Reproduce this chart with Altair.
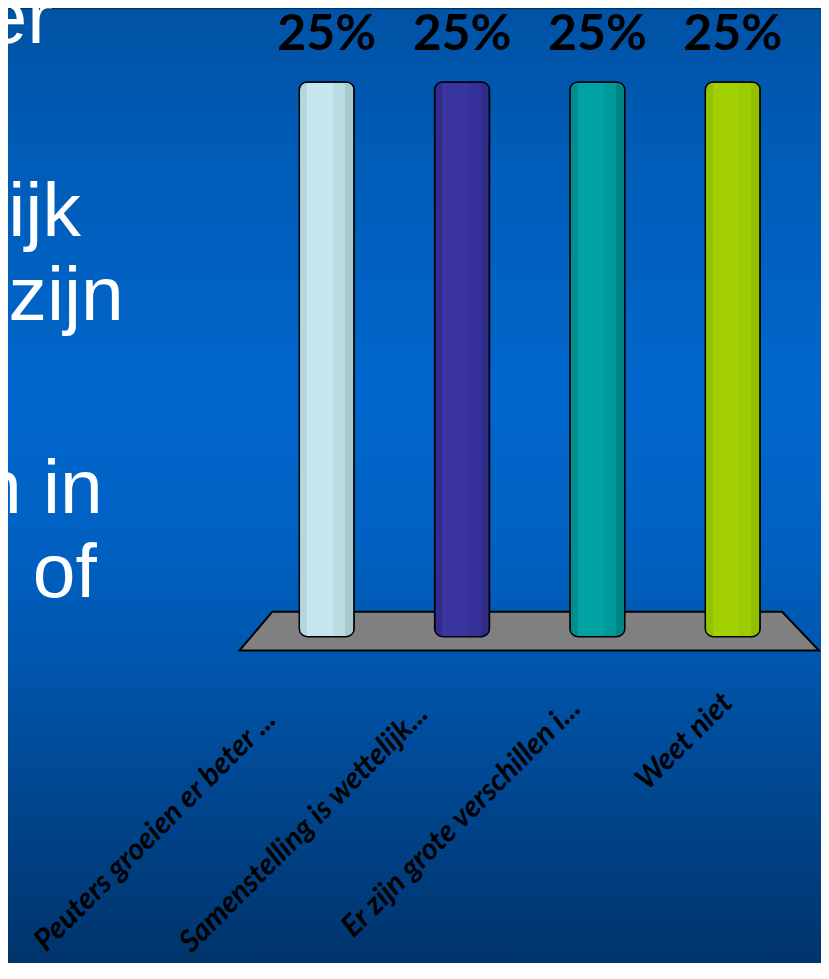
import altair as alt
import pandas as pd

# ---- data ----
categories = [
    "Peuters groeien er beter ...",
    "Samenstelling is wettelijk...",
    "Er zijn grote verschillen i...",
    "Weet niet",
]
values = [0.25, 0.25, 0.25, 0.25]

# side text fragments (cut off by the slide edge)
left_fragments = ["er", "ijk", "zijn", "n in", "l of"]

# bar colours: facets of each cylinder, left -> right
bar_shades = [
    ["#B2D8DE", "#C4E6EC", "#B8DDE2", "#A6CACD", "#96B6B8"],
    ["#302B8C", "#3A349E", "#363099", "#302B88", "#282476"],
    ["#008E8E", "#00A2A2", "#009999", "#008585", "#007A7A"],
    ["#92C200", "#A2D000", "#9BCB00", "#92C000", "#88B200"],
]

W, H = 815, 955

df = pd.DataFrame({"cat": categories, "value": values})

# ---- background ----
bg = alt.Chart(pd.DataFrame({"a": [0]})).mark_rect(
    fill=alt.Gradient(
        gradient="linear",
        stops=[
            alt.GradientStop(color="#0052A4", offset=0),
            alt.GradientStop(color="#005CB7", offset=0.15),
            alt.GradientStop(color="#0066CC", offset=0.40),
            alt.GradientStop(color="#0061C2", offset=0.56),
            alt.GradientStop(color="#0056AE", offset=0.68),
            alt.GradientStop(color="#004A96", offset=0.79),
            alt.GradientStop(color="#00346C", offset=1),
        ],
        x1=0, x2=0, y1=0, y2=1,
    )
).encode(x=alt.value(0), x2=alt.value(W), y=alt.value(0), y2=alt.value(H))

# ---- left text fragments ----
frag_pos = [(45, 34), (73, 227), (116, 312), (95, 505), (89, 589)]
frag_layers = []
for frag, (fx, fy) in zip(left_fragments, frag_pos):
    frag_layers.append(
        alt.Chart(pd.DataFrame({"t": [frag]})).mark_text(
            font="Liberation Sans", fontSize=77, color="white",
            align="right", baseline="alphabetic",
        ).encode(text="t:N", x=alt.value(fx), y=alt.value(fy))
    )

# ---- floor ----
floor_df = pd.DataFrame({"y": [604, 643], "xl": [265, 232], "xr": [776, 813]})
floor = alt.Chart(floor_df).mark_area(
    orient="horizontal", fill="#808080", stroke="black", strokeWidth=2
).encode(
    y=alt.Y("y:Q", scale=alt.Scale(domain=[0, H], range=[0, H], nice=False, zero=False), axis=None),
    x=alt.X("xl:Q", scale=alt.Scale(domain=[0, W], range=[0, W], nice=False, zero=False), axis=None),
    x2="xr:Q",
)

# ---- bars ----
x_bar = alt.X("cat:N", sort=categories,
              scale=alt.Scale(type="point", domain=categories, range=[319.5, 726.5], padding=0),
              axis=None)
y_bar = alt.Y("value:Q", scale=alt.Scale(domain=[0, 0.25], range=[629, 73], nice=False, zero=True),
              axis=None)

bar_layers = []
facet_edges = [0.0, 0.14, 0.62, 0.84, 1.0]
for cat, shades in zip(categories, bar_shades):
    stops = []
    for k in range(len(facet_edges) - 1):
        stops.append(alt.GradientStop(color=shades[k], offset=facet_edges[k]))
        stops.append(alt.GradientStop(color=shades[k], offset=max(facet_edges[k + 1] - 0.002, 0)))
    stops.append(alt.GradientStop(color=shades[-1], offset=1))
    grad = alt.Gradient(gradient="linear", stops=stops, x1=0, x2=1, y1=0, y2=0)
    bar_layers.append(
        alt.Chart(df).transform_filter(alt.datum.cat == cat).mark_bar(
            size=55, fill=grad, stroke="black", strokeWidth=1.5, cornerRadius=8
        ).encode(x=x_bar, y=y_bar)
    )

# ---- value labels ----
value_labels = alt.Chart(df).mark_text(
    font="Lato", fontWeight="bold", fontSize=50, color="black",
    align="center", baseline="alphabetic",
).encode(x=x_bar, y=alt.value(41), text=alt.Text("value:Q", format=".0%"))

# ---- category labels ----
cat_labels = alt.Chart(df).mark_text(
    font="Lato", fontWeight="bold", fontStyle="italic", fontSize=30, color="black",
    angle=315, align="right", baseline="alphabetic",
).encode(
    x=alt.X("cat:N", scale=alt.Scale(type="point", domain=categories, range=[270, 728], padding=0), axis=None),
    y=alt.Y("cat:N", scale=alt.Scale(type="point", domain=categories, range=[714, 697], padding=0), axis=None),
    text="cat:N",
)

chart = alt.layer(
    bg, *frag_layers, floor, *bar_layers, value_labels, cat_labels
).resolve_scale(
    x="independent", y="independent"
).properties(
    width=W, height=H, padding=0, autosize="none", background="#00346C"
).configure_view(stroke=None)

chart.save("out.html", embed_options={"renderer": "svg", "actions": False})
